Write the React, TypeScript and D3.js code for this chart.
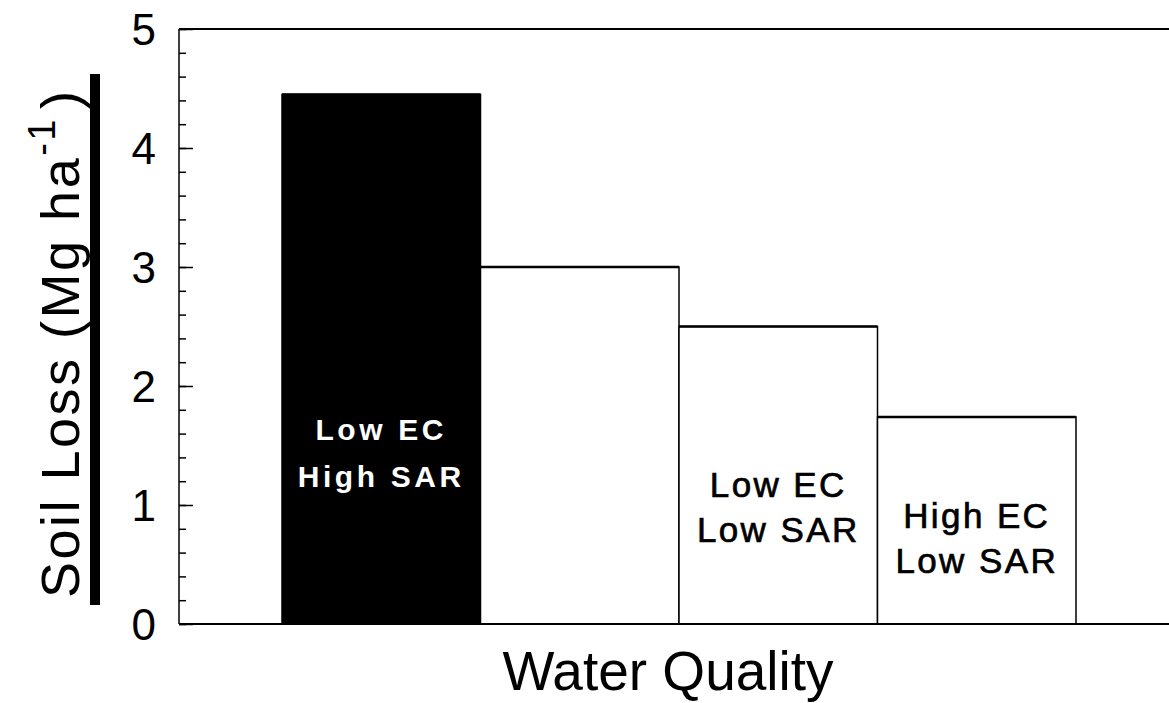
import React, { useRef, useEffect } from 'react';
import * as d3 from 'd3';

// Water quality treatments and measured soil loss
const categories = ['LowEC_HighSAR', 'Control', 'LowEC_LowSAR', 'HighEC_LowSAR'];
const soilLoss = [4.45, 3.0, 2.5, 1.74];
const barLabels = [['Low EC', 'High SAR'], [], ['Low EC', 'Low SAR'], ['High EC', 'Low SAR']];
const labelLevels = [1.55, 0, 1.07, 0.81]; // baseline of first label line, in data units
const majorTicks = [0, 1, 2, 3, 4, 5];

const W = 1169;
const H = 703;

const App = () => {
  const ref = useRef<SVGSVGElement | null>(null);

  useEffect(() => {
    const svg = d3.select(ref.current);
    svg.selectAll('*').remove();

    const left = 179;
    const right = 1172;
    const y = d3.scaleLinear().domain([0, 5]).range([624, 29]);
    const x = d3.scaleBand().domain(categories).range([282, 1076]).padding(0);
    const font = '"Liberation Sans", Arial, sans-serif';

    const data = categories.map((c, i) => ({ c, v: soilLoss[i], lines: barLabels[i], ly: labelLevels[i] }));

    // bars
    svg.append('g')
      .selectAll('rect')
      .data(data)
      .enter().append('rect')
      .attr('x', d => x(d.c)!)
      .attr('y', d => y(d.v))
      .attr('width', x.bandwidth())
      .attr('height', d => y(0) - y(d.v))
      .attr('fill', (d, i) => (i === 0 ? '#000' : '#fff'))
      .attr('stroke', '#000')
      .attr('stroke-width', 1.5);

    // heavier top edges, as in the print
    svg.append('g')
      .selectAll('line')
      .data(data)
      .enter().append('line')
      .attr('x1', d => x(d.c)!)
      .attr('x2', d => x(d.c)! + x.bandwidth())
      .attr('y1', d => y(d.v))
      .attr('y2', d => y(d.v))
      .attr('stroke', '#000')
      .attr('stroke-width', 2.5);

    // bar labels
    data.forEach((d, i) => {
      if (!d.lines.length) return;
      const first = i === 0;
      const cx = x(d.c)! + x.bandwidth() / 2;
      const t = svg.append('text')
        .attr('x', cx)
        .attr('y', y(d.ly))
        .attr('text-anchor', 'middle')
        .attr('font-family', font)
        .attr('font-size', first ? 30 : 35)
        .attr('font-weight', first ? 'bold' : 'normal')
        .attr('letter-spacing', first ? 3.6 : 2.4)
        .attr('fill', first ? '#fff' : '#000')
        .attr('stroke', first ? 'none' : '#000')
        .attr('stroke-width', 0.7);
      d.lines.forEach((l, k) => {
        t.append('tspan')
          .attr('x', cx)
          .attr('dy', k === 0 ? 0 : (first ? 47 : 45))
          .text(l);
      });
    });

    // frame lines (top and bottom) and y axis
    svg.append('line').attr('x1', left).attr('x2', right).attr('y1', y(5)).attr('y2', y(5))
      .attr('stroke', '#000').attr('stroke-width', 2);
    svg.append('line').attr('x1', left).attr('x2', right).attr('y1', y(0)).attr('y2', y(0))
      .attr('stroke', '#000').attr('stroke-width', 2);

    const minor = svg.append('g').attr('transform', `translate(${left},0)`)
      .call(d3.axisRight(y).tickValues(d3.range(0, 5.01, 0.2)).tickSize(7).tickFormat(() => ''));
    minor.select('.domain').remove();
    minor.selectAll('line').attr('stroke-width', 1.5);

    const major = svg.append('g').attr('transform', `translate(${left},0)`)
      .call(d3.axisRight(y).tickValues(majorTicks).tickSize(14).tickFormat(() => ''));
    major.select('.domain').remove();
    major.selectAll('line').attr('stroke-width', 1.5);

    svg.append('line').attr('x1', left).attr('x2', left).attr('y1', y(5)).attr('y2', y(0))
      .attr('stroke', '#000').attr('stroke-width', 1.5);

    // tick labels
    svg.append('g')
      .selectAll('text')
      .data(majorTicks)
      .enter().append('text')
      .attr('x', 156)
      .attr('y', d => y(d))
      .attr('dy', '0.36em')
      .attr('text-anchor', 'end')
      .attr('font-family', font)
      .attr('font-size', 44)
      .text(d => String(d));

    // axis titles
    svg.append('text')
      .attr('x', 668)
      .attr('y', 690)
      .attr('text-anchor', 'middle')
      .attr('font-family', font)
      .attr('font-size', 55)
      .text('Water Quality');

    const yt = svg.append('text')
      .attr('transform', 'translate(79,598) rotate(-90)')
      .attr('text-anchor', 'start')
      .attr('font-family', font)
      .attr('font-size', 54)
      .attr('letter-spacing', 2.5);
    yt.append('tspan').text('Soil Loss (Mg ha');
    yt.append('tspan').attr('dy', -24).attr('font-size', 38).text('-1');
    yt.append('tspan').attr('dy', 24).attr('dx', 8).text(')');

    // heavy rule beside the y title
    svg.append('rect').attr('x', 90).attr('y', 74).attr('width', 10).attr('height', 531).attr('fill', '#000');
  }, []);

  return (
    <svg ref={ref} width={W} height={H} style={{ position: 'absolute', left: 0, top: 0, background: '#fff' }} />
  );
};

export default App;
